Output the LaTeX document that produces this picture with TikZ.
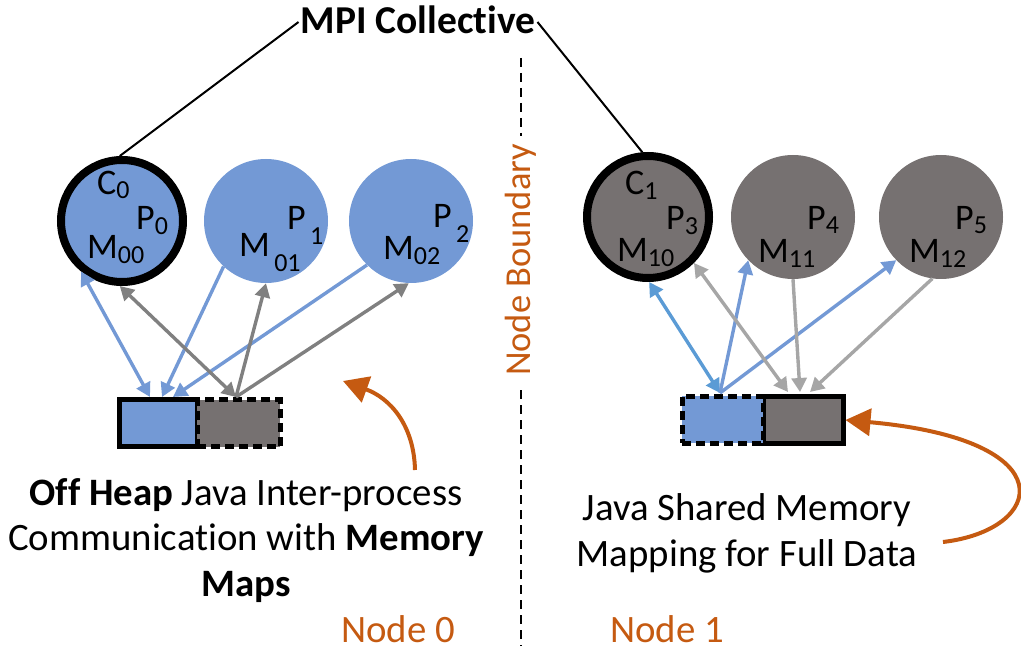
\documentclass[tikz,border=0pt]{standalone}
\usepackage{fontspec}
\setmainfont[Ligatures=NoCommon]{Carlito}
\usetikzlibrary{arrows.meta,calc}
\definecolor{blueF}{RGB}{115,153,213}
\definecolor{grayF}{RGB}{118,113,113}
\definecolor{grayA}{RGB}{128,128,128}
\definecolor{grayL}{RGB}{166,166,166}
\definecolor{blueA}{RGB}{91,155,213}
\definecolor{orangeC}{RGB}{197,90,17}
\newcommand{\sbs}[2]{\raisebox{-#1pt}{\fontsize{26}{26}\selectfont #2}}
\begin{document}
\begin{tikzpicture}[x=1pt,y=-1pt,
  proc/.style={circle, minimum size=124pt, inner sep=0pt, draw=none},
  coordproc/.style={circle, minimum size=122pt, inner sep=0pt, draw=black, line width=8pt},
  lbl/.style={inner sep=0pt, font=\fontsize{36}{36}\selectfont, anchor=base west},
  txt/.style={inner sep=0pt, font=\fontsize{38.8}{38.8}\selectfont, anchor=base},
  con/.style={line width=3.4pt, -{Triangle[length=14pt,width=15pt]}},
  bicon/.style={line width=3.4pt, {Triangle[length=14pt,width=15pt]}-{Triangle[length=14pt,width=15pt]}},
  memblk/.style={rectangle, draw=black, line width=5pt, inner sep=0pt, minimum height=47pt},
  dashblk/.style={memblk, dash pattern=on 9pt off 5pt},
  bnd/.style={line width=2.5pt, dash pattern=on 9pt off 6pt},
  curved/.style={draw=orangeC, line width=4pt, -{Triangle[length=25pt,width=27pt]}}]
\useasboundingbox (0,0) rectangle (1021,660);

% title
\node[inner sep=0pt, font=\bfseries\fontsize{39.5}{39.5}\selectfont] (mpi) at (418,20) {MPI Collective};

% Node 0 processes
\node[proc, fill=blueF] (c1) at (266,221) {};
\node[proc, fill=blueF] (c2) at (411,221) {};
\node[coordproc, fill=blueF] (c0) at (122,221) {};
% Node 1 processes
\node[proc, fill=grayF] (d1) at (793,217) {};
\node[proc, fill=grayF] (d2) at (941,217) {};
\node[coordproc, fill=grayF] (d0) at (648,217) {};

% labels node 0
\node[lbl] (lc0) at (97,195) {C\sbs{4}{0}};
\node[lbl] (lp0) at (136,230) {P\sbs{5}{0}};
\node[lbl] (lm00) at (87,259) {M\sbs{5}{00}};
\node[lbl] (lp1) at (287,230) {P\sbs{15}{\,1}};
\node[lbl] (lm01) at (239,257) {M\sbs{15}{\,01}};
\node[lbl] (lp2) at (433,228) {P\sbs{15}{\,2}};
\node[lbl] (lm02) at (383,260) {M\sbs{5}{02}};
% labels node 1
\node[lbl] (lc1) at (625,195) {C\sbs{5}{1}};
\node[lbl] (lp3) at (666,230) {P\sbs{5}{3}};
\node[lbl] (lm10) at (617,262) {M\sbs{5}{10}};
\node[lbl] (lp4) at (807,230) {P\sbs{4}{4}};
\node[lbl] (lm11) at (758,263) {M\sbs{5}{11}};
\node[lbl] (lp5) at (955,230) {P\sbs{4}{5}};
\node[lbl] (lm12) at (909,263) {M\sbs{5}{12}};

% memory blocks
\node[memblk, fill=blueF, minimum width=78pt] (lb) at (158,423.5) {};
\node[dashblk, fill=grayF, minimum width=83pt] (lg) at (238.5,423.5) {};
\node[memblk, fill=grayF, minimum width=80pt] (rg) at (803,420) {};
\node[dashblk, fill=blueF, minimum width=81pt] (rb) at (722.5,420) {};

% end points on blocks
\coordinate (lb1) at (150,397);
\coordinate (lb2) at (162,397);
\coordinate (lb3) at (173,397);
\coordinate (lg0) at (236,397);
\coordinate (rb0) at (720,393);
\coordinate (rg1) at (788,392);
\coordinate (rg2) at (800,392);
\coordinate (rg3) at (810,392);

% node 0 connectors
\draw[bicon, draw=blueF] (c0.231) -- (lb1);
\draw[con, draw=blueF] (c1.227) -- (lb2);
\draw[con, draw=blueF] (c2.225) -- (lb3);
\draw[bicon, draw=grayA] (lg0) -- (c0.268);
\draw[con, draw=grayA] (lg0) -- (c1.270);
\draw[con, draw=grayA] (lg0) -- (c2.268);

% node 1 connectors
\draw[bicon, draw=blueA] (rb0) -- (d0.271);
\draw[con, draw=blueF] (rb0) -- (d1.224);
\draw[con, draw=blueF] (rb0) -- (d2.224);
\draw[bicon, draw=grayL] (d0.315) -- (rg1);
\draw[con, draw=grayL] (d1.270) -- (rg2);
\draw[con, draw=grayL] (d2.262) -- (rg3);

% MPI lines
\draw[line width=2pt] ($(mpi.west)+(-2,2)$) -- (c0.92);
\draw[line width=2pt] ($(mpi.east)+(2,2)$) -- (d0.95);

% node boundary
\node[txt, anchor=center, rotate=90, text=orangeC, font=\fontsize{36.5}{36.5}\selectfont] (nb) at (521,260) {Node Boundary};
\coordinate (nbt) at (521,58);
\coordinate (nbb) at (521,646);
\draw[bnd] (nbt) -- ($(nb.east)+(0,-8)$);
\draw[bnd] ($(nb.west)+(0,14)$) -- (nbb);

% texts
\node[txt] (t1) at (246,505) {\textbf{Off Heap} Java Inter-process};
\node[txt] (t2) at (246,550) {Communication with \textbf{Memory}};
\node[txt] (t3) at (246,596) {\textbf{Maps}};
\node[txt] (t4) at (747,520) {Java Shared Memory};
\node[txt] (t5) at (747,566) {Mapping for Full Data};
\node[txt, text=orangeC] (n0) at (398,642) {Node 0};
\node[txt, text=orangeC] (n1) at (667,642) {Node 1};

% orange arrows
\coordinate (oa1) at (415,470);
\coordinate (oa2) at (943,542);
\draw[curved] (oa1) .. controls (414,425) and (390,398) .. (343,381);
\draw[curved] (oa2) .. controls (1045,530) and (1068,440) .. (rg.east);
\end{tikzpicture}
\end{document}
